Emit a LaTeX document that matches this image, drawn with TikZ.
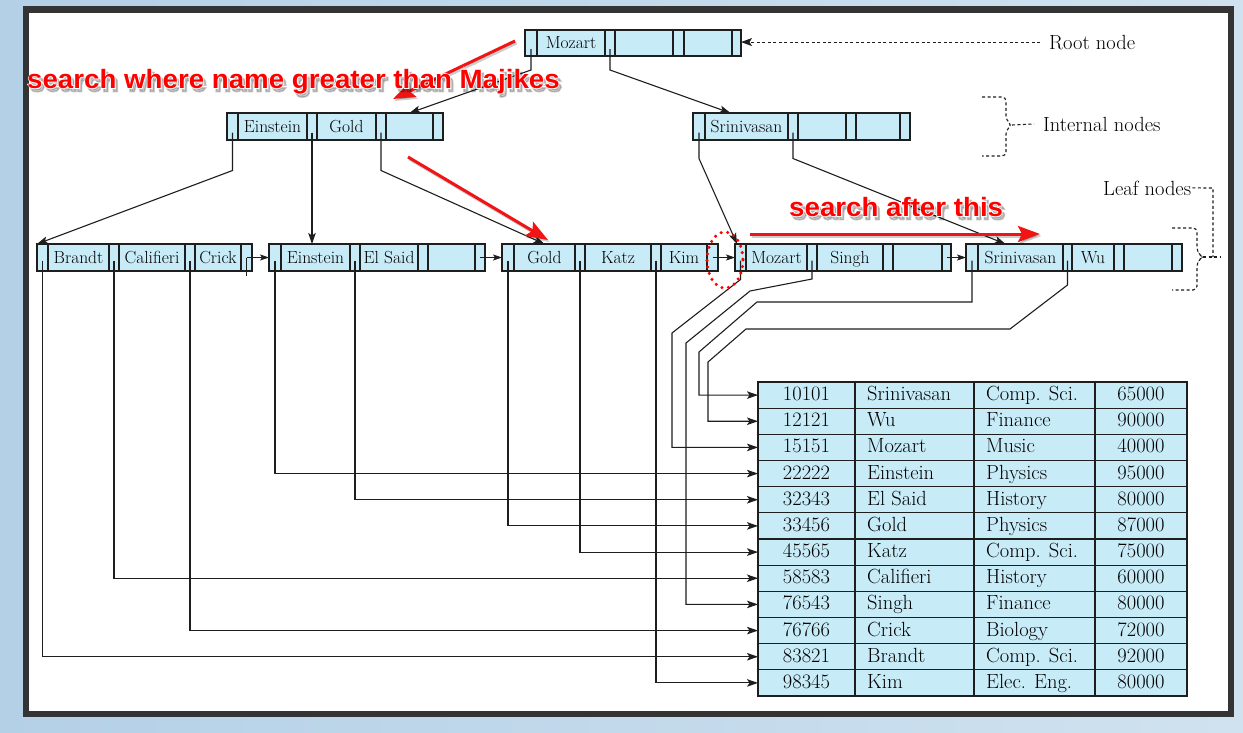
\documentclass[tikz,border=0pt]{standalone}
\usepackage{graphicx}
\usepackage{fontspec}
\newfontfamily\annotfont{Liberation Sans}
\newfontfamily\annotoutline{Liberation Sans}[UprightFont=* Bold, FakeBold=6]
\usetikzlibrary{arrows.meta,calc}
\definecolor{nodefill}{RGB}{200,235,248}
\definecolor{linec}{RGB}{30,30,30}
\definecolor{framec}{RGB}{52,52,52}
\definecolor{bgA}{RGB}{180,208,231}
\definecolor{bgB}{RGB}{208,226,239}
\definecolor{annot}{RGB}{255,0,0}
\definecolor{annotarrow}{RGB}{240,20,20}

\newcommand\bnode[4]{%
  \foreach \xa/\xb/\tx [count=\k] in {#4}{%
    \node[cell, minimum width={\xb-\xa}, minimum height={#3-#2}] (#1\k) at ({(\xa+\xb)/2},{(#2+#3)/2}) {\tx};}}

\newcommand\redlabel[3]{%
  \node[redtxt, font=\annotoutline\fontsize{26.5}{30}\selectfont, text=black, opacity=0.2] (#1s) at ($(#2)+(2.5,3.5)$) {#3};
  \node[redtxt, font=\annotoutline\fontsize{26.5}{30}\selectfont, text=white] (#1o) at (#2) {#3};
  \node[redtxt, text=annot] (#1) at (#2) {#3};}

\begin{document}
\begin{tikzpicture}[x=1pt,y=-1pt,
  cell/.style={draw=linec, fill=nodefill, line width=1.1pt, inner sep=0pt, outer sep=0pt,
    text height=13pt, text depth=2pt, font=\fontsize{17.5}{20}\selectfont},
  tcell/.style={draw=linec, fill=nodefill, line width=1.1pt, inner sep=0pt, outer sep=0pt,
    minimum height=26.1667pt},
  ttxt/.style={inner sep=0pt, font=\fontsize{20.5}{24}\selectfont},
  lbl/.style={inner sep=0pt, anchor=base west, font=\fontsize{20.5}{24}\selectfont},
  wire/.style={draw=linec, line width=1.1pt},
  conn/.style={wire, -{Stealth[length=11pt,width=7.5pt,inset=2.5pt]}},
  nxt/.style={wire, -{Stealth[length=9pt,width=6pt,inset=2pt]}},
  dashlbl/.style={draw=linec, line width=1.1pt, dash pattern=on 3pt off 2.5pt},
  redarrow/.style={draw=annotarrow, line width=3pt, -{Stealth[length=22pt,width=16pt,inset=4pt]}},
  redshadow/.style={draw=black, opacity=0.2, line width=3pt, -{Stealth[length=22pt,width=16pt,inset=4pt]}},
  redtxt/.style={inner sep=0pt, anchor=base west, font=\annotfont\bfseries\fontsize{26.5}{30}\selectfont},
]
\useasboundingbox (0,0) rectangle (1243,732);
\shade[left color=bgA, right color=bgB] (0,0) rectangle (1243,732);
\fill[framec] (23,6) rectangle (1234,717);
\fill[white] (29,13) rectangle (1228,711);

% root
\bnode{r}{30}{56}{525/537/{},537/605/Mozart,605/615/{},615/673/{},673/684/{},684/732/{},732/741/{}}
% internal
\bnode{ia}{113}{140}{227/238/{},238/307/Einstein,307/317/{},317/376/Gold,376/386/{},386/433/{},433/443/{}}
\bnode{ib}{113}{140}{693/705/{},705/788/Srinivasan,788/798/{},798/846/{},846/856/{},856/900/{},900/910/{}}
% leaves
\bnode{la}{244}{271}{37/48/{},48/109/Brandt,109/119/{},119/185/Califieri,185/195/{},195/241/Crick,241/252/{}}
\bnode{lb}{244}{271}{269/281/{},281/350/Einstein,350/360/{},360/418/El Said,418/428/{},428/475/{},475/485/{}}
\bnode{lc}{244}{271}{502/514/{},514/575/Gold,575/585/{},585/651/Katz,651/661/{},661/707/Kim,707/718/{}}
\bnode{ld}{244}{271}{735/746/{},746/807/Mozart,807/817/{},817/883/Singh,883/893/{},893/942/{},942/951/{}}
\bnode{le}{244}{271}{966/978/{},978/1063/Srinivasan,1063/1072/{},1072/1114/Wu,1114/1124/{},1124/1172/{},1172/1182/{}}

% table
\foreach \id/\nm/\dept/\sal [count=\i from 0] in {
  10101/Srinivasan/Comp. Sci./65000,
  12121/Wu/Finance/90000,
  15151/Mozart/Music/40000,
  22222/Einstein/Physics/95000,
  32343/El Said/History/80000,
  33456/Gold/Physics/87000,
  45565/Katz/Comp. Sci./75000,
  58583/Califieri/History/60000,
  76543/Singh/Finance/80000,
  76766/Crick/Biology/72000,
  83821/Brandt/Comp. Sci./92000,
  98345/Kim/Elec. Eng./80000}{
  \pgfmathsetmacro\yc{382+26.1667*(\i+0.5)}
  \pgfmathsetmacro\yb{382+26.1667*\i+18.5}
  \node[tcell, minimum width=97pt] (t\i-1) at (806.5,\yc) {};
  \node[tcell, minimum width=119pt] (t\i-2) at (914.5,\yc) {};
  \node[tcell, minimum width=121pt] (t\i-3) at (1034.5,\yc) {};
  \node[tcell, minimum width=92pt] (t\i-4) at (1141,\yc) {};
  \node[ttxt, anchor=base] (t\i-1t) at (806.5,\yb) {\id};
  \node[ttxt, anchor=base west] (t\i-2t) at (867,\yb) {\nm};
  \node[ttxt, anchor=base west] (t\i-3t) at (986,\yb) {\dept};
  \node[ttxt, anchor=base] (t\i-4t) at (1141,\yb) {\sal};
}

% root -> internal
\draw[conn] ($(r1.center)+(0,6)$) -- ++(0,21) -- (ia6.north);
\draw[conn] ($(r3.center)+(0,6)$) -- ++(0,21) -- ($(ib2.north)+(-16,0)$);
% internal -> leaves
\draw[conn] ($(ia1.center)+(0,6)$) -- ++(0,38) -- (la1.north west);
\draw[conn] ($(ia3.center)+(0,6)$) -- (ia3.center |- lb2.north);
\draw[conn] ($(ia5.center)+(0,6)$) -- ++(0,38) -- (lc2.north);
\draw[conn] ($(ib1.center)+(0,6)$) -- ++(0,26) -- ($(ld1.north west)+(2,0)$);
\draw[conn] ($(ib3.center)+(0,6)$) -- ++(0,26) -- ($(le2.north)+(-15,0)$);
% next-leaf pointers
\draw[wire] (la7.center) -- ++(0,18.5);
\draw[nxt] (la7.center) -- (lb1.west);
\draw[nxt] (lb7.center) -- (lc1.west);
\draw[nxt] (lc7.center) -- (ld1.west);
\draw[nxt] (ld7.center) -- (le1.west);
% leaves -> records
\draw[conn] ($(la1.center)+(0,3)$) |- (t10-1.west);
\draw[conn] ($(la3.center)+(0,3)$) |- (t7-1.west);
\draw[conn] ($(la5.center)+(0,3)$) |- (t9-1.west);
\draw[conn] ($(lb1.center)+(0,3)$) |- (t3-1.west);
\draw[conn] ($(lb3.center)+(0,3)$) |- (t4-1.west);
\draw[conn] ($(lc1.center)+(0,3)$) |- (t5-1.west);
\draw[conn] ($(lc3.center)+(0,3)$) |- (t6-1.west);
\draw[conn] ($(lc5.center)+(0,3)$) |- (t11-1.west);
\draw[conn] ($(ld1.center)+(0,3)$) -- ++(0,19) -- (672,333) |- (t2-1.west);
\draw[conn] ($(ld3.center)+(0,3)$) -- ++(0,18.5) -- (750,291) -- (686,343) |- (t8-1.west);
\draw[conn] ($(le1.center)+(0,3)$) -- (972,302) -- (757,302) -- (699,352) |- (t0-1.west);
\draw[conn] ($(le3.center)+(0,3)$) -- (1067.5,285) -- (1010,329) -- (746,329) -- (708,362) |- (t1-1.west);

% labels
\node[lbl] (rootlbl) at (1049,49) {Root node};
\draw[dashlbl, -{Stealth[length=11pt,width=8pt,inset=2.5pt]}] ($(rootlbl.west)+(-9,0)$) -- (r7.east |- rootlbl.west);
\node[lbl] (intlbl) at (1043,131) {Internal nodes};
\draw[dashlbl, rounded corners=4pt] (982,97) -- (1006,97) -- (1006,120) -- (1012,125) -- (1006,130) -- (1006,156) -- (982,156);
\draw[dashlbl] (1012,125) -- ($(intlbl.west)+(-9,0)$);
\node[lbl] (leaflbl) at (1103,195) {Leaf nodes};
\draw[dashlbl, rounded corners=4pt] (1172,228) -- (1197,228) -- (1197,252) -- (1203,257) -- (1197,262) -- (1197,290) -- (1172,290);
\draw[dashlbl] (1203,257) -- (1221,257);
\draw[dashlbl] ($(leaflbl.east)+(1,0)$) -- (1213,188) -- (1213,257);

% annotations
\draw[annot, line width=3.4pt, line cap=round, dash pattern=on 0pt off 6.6pt] (725,260) ellipse [x radius=18, y radius=28];
\coordinate (ra1s) at (515,41); \coordinate (ra1e) at (393,99);
\coordinate (ra2s) at (408,157); \coordinate (ra2e) at (548,240);
\coordinate (ra3s) at (750,234); \coordinate (ra3e) at (1040,234);
\foreach \s/\e in {ra1s/ra1e,ra2s/ra2e,ra3s/ra3e}{
  \draw[redshadow] ($(\s)+(1.5,2)$) -- ($(\e)+(1.5,2)$);
  \draw[redarrow] (\s) -- (\e);}
\redlabel{lab1}{27,88}{\scalebox{1.045}[1]{search where name greater than Majikes}}
\redlabel{lab2}{789,216}{\scalebox{1.045}[1]{search after this}}
\end{tikzpicture}
\end{document}
